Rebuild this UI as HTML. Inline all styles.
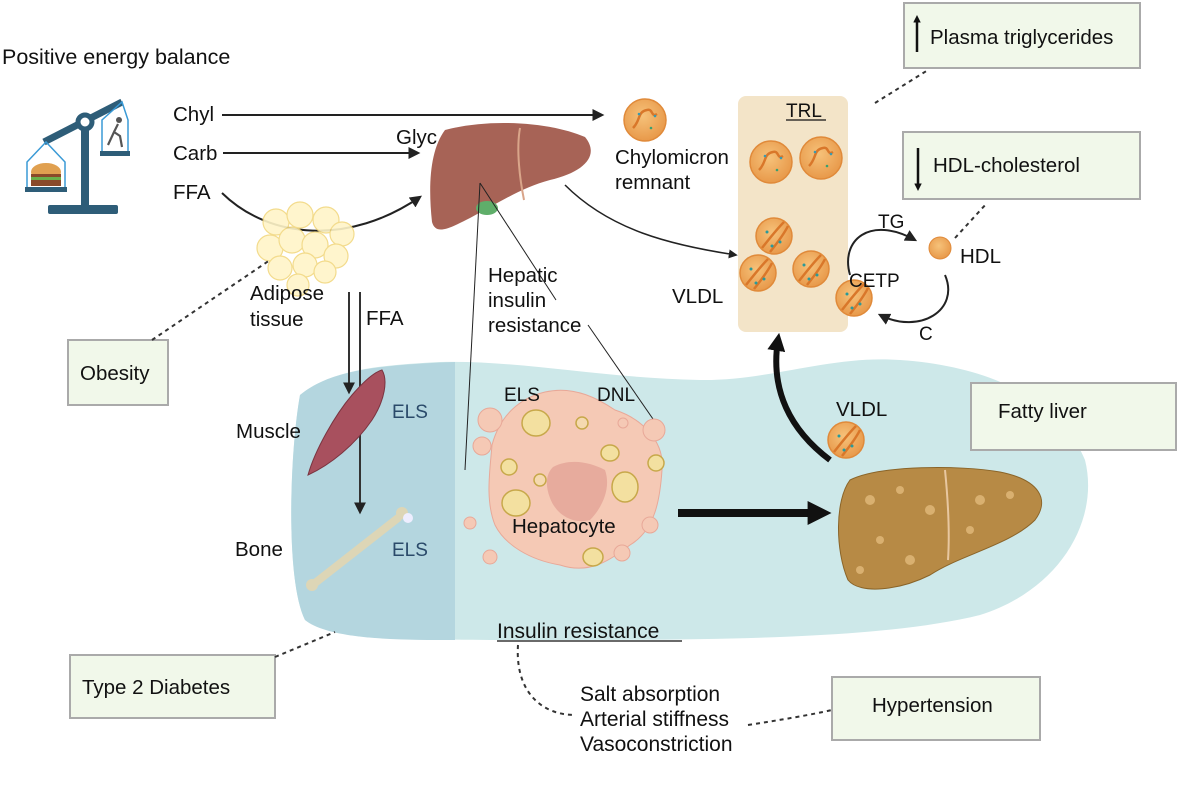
<!DOCTYPE html>
<html><head><meta charset="utf-8"><style>
html,body{margin:0;padding:0;background:#fff}
svg{display:block}
text{font-family:"Liberation Sans",sans-serif;fill:#111}
</style></head><body>
<svg width="1179" height="793" viewBox="0 0 1179 793" xmlns="http://www.w3.org/2000/svg">
<defs>
<marker id="ah" viewBox="0 0 10 10" refX="8" refY="5" markerWidth="6" markerHeight="6" orient="auto"><path d="M0,0L10,5L0,10z" fill="#222"/></marker>
<marker id="ahb" viewBox="0 0 10 10" refX="6" refY="5" markerWidth="3" markerHeight="3" orient="auto"><path d="M0,0L10,5L0,10z" fill="#111"/></marker>
<radialGradient id="pg" cx="0.45" cy="0.4" r="0.6"><stop offset="0" stop-color="#f6c27a"/><stop offset="1" stop-color="#e8994a"/></radialGradient>
<g id="part"><circle r="21" fill="url(#pg)" stroke="#e08a3a" stroke-width="1.5"/><path d="M-12,8 C-4,0 -8,-8 2,-10 C8,-12 6,-2 12,-6" stroke="#d9772a" stroke-width="2.5" fill="none"/><circle cx="-6" cy="-6" r="1.3" fill="#3a9ab0"/><circle cx="6" cy="8" r="1.3" fill="#3aa070"/><circle cx="10" cy="-4" r="1.3" fill="#3a9ab0"/></g>
<g id="part2"><circle r="18" fill="url(#pg)" stroke="#e08a3a" stroke-width="1.5"/><path d="M-12,12 C-4,2 2,-6 10,-14 M-4,16 C4,6 10,-2 14,-10" stroke="#d9772a" stroke-width="2.5" fill="none"/><circle cx="-7" cy="-4" r="1.5" fill="#2a9a9a"/><circle cx="6" cy="6" r="1.5" fill="#2a9a9a"/><circle cx="-2" cy="10" r="1.5" fill="#2a9a9a"/></g>
</defs>

<path d="M300,395 C330,370 380,365 440,362 C520,360 600,378 700,380 C770,381 830,355 900,360 C990,366 1060,400 1085,460 C1100,520 1060,590 980,615 C880,640 700,640 540,640 C420,640 330,640 305,620 C285,580 290,450 300,395 Z" fill="#cde8e9"/>
<path d="M300,395 C330,370 380,365 455,362 L455,640 C400,640 330,640 305,620 C285,580 290,450 300,395 Z" fill="#b4d6df"/>

<text x="2" y="64" font-size="21.5">Positive energy balance</text>

<g>
<rect x="48" y="205" width="70" height="9" rx="2" fill="#2e5d78"/>
<rect x="81" y="125" width="8" height="82" fill="#2e5d78"/>
<path d="M44,142 L122,102" stroke="#2e5d78" stroke-width="7"/>
<circle cx="85" cy="122" r="7" fill="#fff" stroke="#2e5d78" stroke-width="5"/>
<path d="M46,142 L27,162 L27,188 L65,188 L65,162 Z" fill="none" stroke="#3a9ad6" stroke-width="1.5"/>
<rect x="25" y="187" width="42" height="5" fill="#2e5d78"/>
<ellipse cx="46" cy="172" rx="15" ry="9" fill="#e0a050"/>
<rect x="31" y="174" width="30" height="12" fill="#8a4a2a"/>
<rect x="31" y="177" width="30" height="3" fill="#6ab04a"/>
<path d="M122,102 L102,120 L102,152 L128,152 L128,120 Z" fill="none" stroke="#3a9ad6" stroke-width="1.5"/>
<rect x="100" y="151" width="30" height="5" fill="#2e5d78"/>
<path d="M108,145 L114,132 L120,136 L122,147 M114,132 L118,124" stroke="#555" stroke-width="2.2" fill="none"/>
<circle cx="119" cy="120" r="3" fill="#555"/>
</g>

<text x="173" y="121" font-size="20.5">Chyl</text>
<text x="173" y="160" font-size="20.5">Carb</text>
<text x="173" y="199" font-size="20.5">FFA</text>
<line x1="222" y1="115" x2="602" y2="115" stroke="#222" stroke-width="2" marker-end="url(#ah)"/>
<line x1="223" y1="153" x2="418" y2="153" stroke="#222" stroke-width="2" marker-end="url(#ah)"/>
<path d="M222,193 C270,240 350,245 420,197" stroke="#222" stroke-width="2" fill="none" marker-end="url(#ah)"/>
<text x="396" y="144" font-size="20.5">Glyc</text>

<g fill="#fff5c8" stroke="#f2d880" stroke-width="1.2" opacity="0.9">
<circle cx="276" cy="222" r="13"/><circle cx="300" cy="215" r="13"/><circle cx="326" cy="220" r="13"/><circle cx="342" cy="234" r="12"/>
<circle cx="270" cy="248" r="13"/><circle cx="292" cy="240" r="13"/><circle cx="315" cy="245" r="13"/><circle cx="336" cy="256" r="12"/>
<circle cx="280" cy="268" r="12"/><circle cx="305" cy="265" r="12"/><circle cx="325" cy="272" r="11"/><circle cx="298" cy="285" r="11"/>
</g>
<text x="250" y="300" font-size="20.5">Adipose</text>
<text x="250" y="326" font-size="20.5">tissue</text>
<line x1="349" y1="292" x2="349" y2="392" stroke="#333" stroke-width="2" marker-end="url(#ah)"/>
<line x1="360" y1="292" x2="360" y2="512" stroke="#333" stroke-width="2" marker-end="url(#ah)"/>
<text x="366" y="325" font-size="20.5">FFA</text>

<path d="M445,130 C490,118 550,122 585,137 C600,155 585,172 550,180 C520,188 495,205 470,218 C450,228 436,236 432,222 C428,185 430,150 445,130 Z" fill="#a76356"/>
<path d="M520,128 C516,150 520,180 524,200" stroke="#d9a58a" stroke-width="2" fill="none"/>
<ellipse cx="487" cy="208" rx="11" ry="7" fill="#5fae6a"/>
<line x1="480" y1="183" x2="465" y2="470" stroke="#222" stroke-width="1"/>
<line x1="480" y1="183" x2="556" y2="300" stroke="#222" stroke-width="1"/>
<line x1="588" y1="325" x2="662" y2="432" stroke="#222" stroke-width="1"/>
<text x="488" y="282" font-size="20.5">Hepatic</text>
<text x="488" y="307" font-size="20.5">insulin</text>
<text x="488" y="332" font-size="20.5">resistance</text>
<path d="M565,185 C610,230 670,245 736,255" stroke="#222" stroke-width="1.5" fill="none" marker-end="url(#ah)"/>

<use href="#part" x="645" y="120"/>
<text x="615" y="164" font-size="20.5">Chylomicron</text>
<text x="615" y="189" font-size="20.5">remnant</text>

<rect x="738" y="96" width="110" height="236" rx="8" fill="#f3e4c8"/>
<text x="786" y="117" font-size="19">TRL</text>
<line x1="786" y1="120" x2="826" y2="120" stroke="#111" stroke-width="1.3"/>
<use href="#part" x="771" y="162"/>
<use href="#part" x="821" y="158"/>
<use href="#part2" x="774" y="236"/>
<use href="#part2" x="758" y="273"/>
<use href="#part2" x="811" y="269"/>
<use href="#part2" x="854" y="298"/>
<text x="672" y="303" font-size="20.5">VLDL</text>
<path d="M850,275 C840,240 870,215 915,240" stroke="#222" stroke-width="2" fill="none" marker-end="url(#ah)"/>
<path d="M945,275 C960,310 920,335 880,315" stroke="#222" stroke-width="2" fill="none" marker-end="url(#ah)"/>
<text x="878" y="228" font-size="19">TG</text>
<text x="849" y="287" font-size="19">CETP</text>
<text x="919" y="340" font-size="19">C</text>
<circle cx="940" cy="248" r="11" fill="url(#pg)" stroke="#e08a3a"/>
<text x="960" y="263" font-size="20.5">HDL</text>
<line x1="955" y1="238" x2="987" y2="203" stroke="#333" stroke-width="2" stroke-dasharray="4,4"/>
<line x1="875" y1="103" x2="928" y2="70" stroke="#333" stroke-width="2" stroke-dasharray="4,4"/>

<rect x="904" y="3" width="236" height="65" fill="#f1f8ea" stroke="#aaa" stroke-width="2"/>
<line x1="917" y1="52" x2="917" y2="18" stroke="#111" stroke-width="2.5" marker-end="url(#ahb)"/>
<text x="930" y="44" font-size="20.5">Plasma triglycerides</text>
<rect x="903" y="132" width="237" height="67" fill="#f1f8ea" stroke="#aaa" stroke-width="2"/>
<line x1="918" y1="148" x2="918" y2="188" stroke="#111" stroke-width="2.5" marker-end="url(#ahb)"/>
<text x="933" y="172" font-size="20.5">HDL-cholesterol</text>
<rect x="68" y="340" width="100" height="65" fill="#f1f8ea" stroke="#aaa" stroke-width="2"/>
<text x="80" y="380" font-size="20.5">Obesity</text>
<line x1="152" y1="340" x2="270" y2="260" stroke="#333" stroke-width="2" stroke-dasharray="4,4"/>
<rect x="971" y="383" width="205" height="67" fill="#f1f8ea" stroke="#aaa" stroke-width="2"/>
<text x="998" y="418" font-size="20.5">Fatty liver</text>
<rect x="70" y="655" width="205" height="63" fill="#f1f8ea" stroke="#aaa" stroke-width="2"/>
<text x="82" y="694" font-size="20.5">Type 2 Diabetes</text>
<line x1="275" y1="657" x2="335" y2="632" stroke="#333" stroke-width="2" stroke-dasharray="4,4"/>
<rect x="832" y="677" width="208" height="63" fill="#f1f8ea" stroke="#aaa" stroke-width="2"/>
<text x="872" y="712" font-size="20.5">Hypertension</text>
<path d="M518,645 C515,690 540,715 575,715" stroke="#333" stroke-width="2" stroke-dasharray="4,4" fill="none"/>
<path d="M748,725 C780,720 810,715 832,710" stroke="#333" stroke-width="2" stroke-dasharray="4,4" fill="none"/>

<path d="M382,370 C388,380 385,400 372,420 C355,445 330,465 308,475 C315,450 335,415 352,395 C365,380 375,372 382,370 Z" fill="#a8505e" stroke="#7a3440"/>
<text x="236" y="438" font-size="20.5">Muscle</text>
<text x="392" y="418" font-size="19" style="fill:#2a4a6a">ELS</text>
<path d="M315,583 L398,518" stroke="#ddd6b6" stroke-width="8" stroke-linecap="round"/>
<circle cx="312" cy="585" r="6" fill="#ddd6b6"/><circle cx="402" cy="513" r="6" fill="#ddd6b6"/><circle cx="408" cy="518" r="5" fill="#eef"/>
<text x="235" y="556" font-size="20.5">Bone</text>
<text x="392" y="556" font-size="19" style="fill:#2a4a6a">ELS</text>

<path d="M545,392 C575,385 600,400 615,410 C640,418 665,440 662,470 C660,500 655,530 630,545 C610,560 590,575 560,565 C530,560 505,545 495,525 C485,500 490,470 492,445 C500,415 520,398 545,392 Z" fill="#f5c9b5" stroke="#e8a898"/>
<path d="M553,467 C570,458 590,462 605,470 C612,490 600,510 590,520 C570,525 555,512 550,498 C545,485 546,474 553,467 Z" fill="#e7ab9d"/>
<g fill="#f3e0a0" stroke="#c7a84a" stroke-width="1.5"><ellipse cx="536" cy="423" rx="14" ry="13"/><ellipse cx="625" cy="487" rx="13" ry="15"/><ellipse cx="516" cy="503" rx="14" ry="13"/><ellipse cx="610" cy="453" rx="9" ry="8"/><ellipse cx="656" cy="463" rx="8" ry="8"/><ellipse cx="593" cy="557" rx="10" ry="9"/><ellipse cx="509" cy="467" rx="8" ry="8"/><ellipse cx="582" cy="423" rx="6" ry="6" fill="#f5d9b0"/><ellipse cx="540" cy="480" rx="6" ry="6" fill="#f5d9b0"/></g>
<g fill="#f5c9b5" stroke="#e8a898"><circle cx="482" cy="446" r="9"/><circle cx="470" cy="523" r="6"/><circle cx="654" cy="430" r="11"/><circle cx="650" cy="525" r="8"/><circle cx="622" cy="553" r="8"/><circle cx="490" cy="557" r="7"/><circle cx="623" cy="423" r="5"/><circle cx="490" cy="420" r="12"/></g>
<text x="504" y="401" font-size="19">ELS</text>
<text x="597" y="401" font-size="19">DNL</text>
<text x="512" y="533" font-size="20.5">Hepatocyte</text>
<line x1="678" y1="513" x2="822" y2="513" stroke="#111" stroke-width="8" marker-end="url(#ahb)"/>
<text x="497" y="638" font-size="21">Insulin resistance</text>
<line x1="497" y1="641" x2="682" y2="641" stroke="#111" stroke-width="1.3"/>

<path d="M850,480 C880,465 960,465 1000,472 C1040,480 1050,500 1035,520 C1010,545 960,555 930,575 C900,590 860,595 848,580 C835,550 835,500 850,480 Z" fill="#b78a45" stroke="#8a6428"/>
<path d="M945,470 C948,500 950,530 948,560" stroke="#e8c7a0" stroke-width="2" fill="none"/>
<g fill="#d9b070"><circle cx="870" cy="500" r="5"/><circle cx="900" cy="490" r="4"/><circle cx="930" cy="510" r="5"/><circle cx="880" cy="540" r="4"/><circle cx="910" cy="560" r="5"/><circle cx="980" cy="500" r="5"/><circle cx="1010" cy="495" r="4"/><circle cx="970" cy="530" r="4"/><circle cx="860" cy="570" r="4"/></g>
<use href="#part2" x="846" y="440"/>
<text x="836" y="416" font-size="20.5">VLDL</text>
<path d="M830,460 C790,430 770,390 778,340" stroke="#111" stroke-width="6" fill="none" marker-end="url(#ahb)"/>

<text x="580" y="701" font-size="21">Salt absorption</text>
<text x="580" y="726" font-size="21">Arterial stiffness</text>
<text x="580" y="751" font-size="21">Vasoconstriction</text>
</svg>
</body></html>
